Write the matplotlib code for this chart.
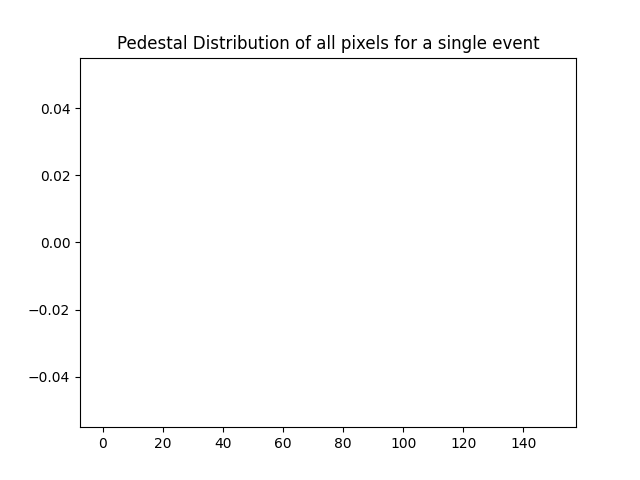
import numpy as np
import matplotlib.pyplot as plt

# Dados: pixel index range, no pedestal values recorded for this event
pixels = [0, 150]
pedestal = [np.nan, np.nan]

fig, ax = plt.subplots(figsize=(6.4, 4.8), dpi=100)
ax.plot(pixels, pedestal)
ax.set_xlim(-7.5, 157.5)
ax.set_ylim(-0.055, 0.055)
ax.set_xticks(np.arange(0, 141, 20))
ax.set_title('Pedestal Distribution of all pixels for a single event')
fig.savefig('out.png')
